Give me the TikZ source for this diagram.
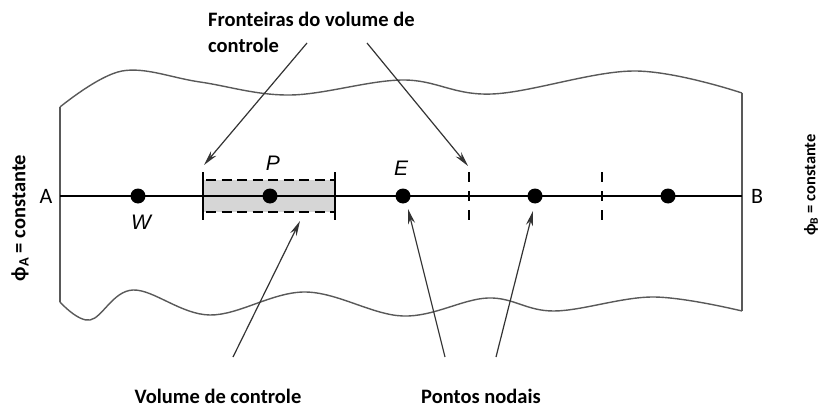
\documentclass[tikz,border=0pt]{standalone}
\usepackage{fontspec}
\setmainfont{Carlito}
\newfontfamily\letra{Liberation Sans}
\usetikzlibrary{arrows.meta}

\tikzset{
  contorno/.style={line width=1.4pt, black!65},
  ponto/.style={circle, fill=black, inner sep=0pt, minimum size=15pt},
  rotulo/.style={font=\letra\itshape\fontsize{21}{21}\selectfont, inner sep=0pt},
  extremo/.style={font=\fontsize{22}{22}\selectfont, inner sep=0pt},
  texto/.style={font=\bfseries\fontsize{20.5}{26}\selectfont, align=left, inner sep=0pt},
  seta/.style={line width=1.2pt, black!80, -{Stealth[length=15pt,width=7pt]}},
  fronteira/.style={line width=1.5pt, dash pattern=on 10pt off 9pt},
}

\begin{document}
\begin{tikzpicture}[x=1pt,y=-1pt]
\useasboundingbox (0,0) rectangle (820,412);

%contorno do dominio
\draw [contorno] plot [smooth, tension=0.6] coordinates
   {(60,107) (122,71) (200,82) (290,95) (403,80) (492,94) (634,71) (742,93)};
\draw [contorno] plot [smooth, tension=0.6] coordinates
   {(60,302) (90,320) (133,290) (210,315) (305,292) (403,316) (488,298) (554,311) (653,297) (742,311)};
\draw [contorno] (60,107) -- (60,302);
\draw [contorno] (742,93) -- (742,311);

%volume de controle
\fill [black!16] (203,180) rectangle (335,212);
\draw [line width=1.5pt, dash pattern=on 10pt off 5.5pt] (206,180) -- (335,180);
\draw [line width=1.5pt, dash pattern=on 10pt off 5.5pt] (206,212) -- (335,212);
\draw [line width=1.5pt] (203,172) -- (203,220);
\draw [line width=1.5pt] (335,172) -- (335,220);
\draw [fronteira] (469,172) -- (469,220);
\draw [fronteira] (602,172) -- (602,220);

%eixo
\node [extremo] (A) at (46,196) {A};
\node [extremo] (B) at (757,196) {B};
\draw [line width=2.8pt] (60,196) -- (742,196);

%pontos nodais
\foreach \x/\nome in {138/W, 270/P, 403/E, 535/Q, 668/R}
   {\node [ponto] (\nome) at (\x,196) {};
   }
\node [rotulo] (lW) at (141,222) {W};
\node [rotulo] (lP) at (273,163) {P};
\node [rotulo] (lE) at (401,168) {E};

%contorno esquerdo e direito
\node [texto, rotate=90] (phiA) at (20,218) {ϕ\textsubscript{A} = constante};
\node [texto, rotate=90, font=\bfseries\fontsize{16.5}{20}\selectfont] (phiB) at (811,185) {ϕ\textsubscript{B} = constante};

%legendas
\node [texto, anchor=north west] (fronteiras) at (208,12) {Fronteiras do volume de\\controle};
\node [texto] (volume) at (218,396) {Volume de controle};
\node [texto] (pontos) at (481,396) {Pontos nodais};

%setas
\coordinate (f1) at (307,43);
\coordinate (f1p) at (204,165);
\coordinate (f2) at (367,43);
\coordinate (f2p) at (468,166);
\coordinate (v1) at (233,357);
\coordinate (v1p) at (300,221);
\coordinate (n1) at (445,357);
\coordinate (n1p) at (408,209);
\coordinate (n2) at (496,357);
\coordinate (n2p) at (533,211);
\draw [seta] (f1) -- (f1p);
\draw [seta] (f2) -- (f2p);
\draw [seta] (v1) -- (v1p);
\draw [seta] (n1) -- (n1p);
\draw [seta] (n2) -- (n2p);

\end{tikzpicture}
\end{document}
